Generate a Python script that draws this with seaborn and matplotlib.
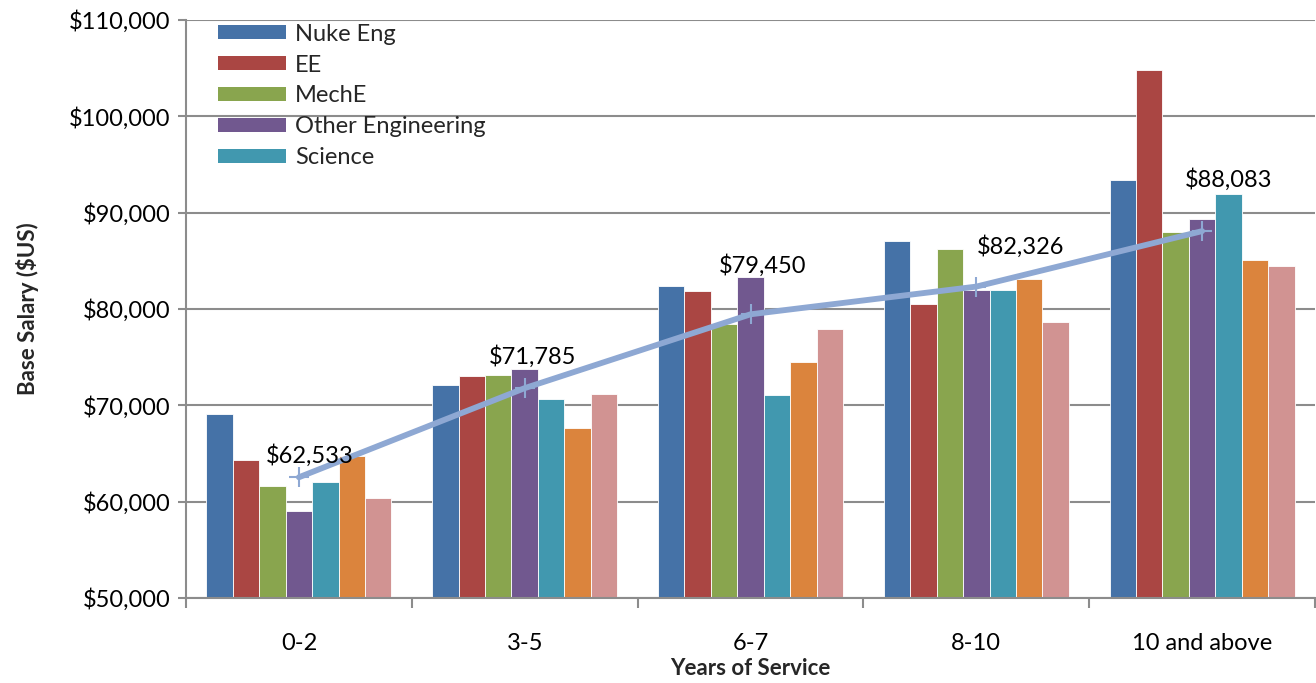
import numpy as np
import pandas as pd
import matplotlib
matplotlib.use("Agg")
import matplotlib.pyplot as plt
from matplotlib.ticker import FuncFormatter, FixedLocator
from matplotlib.patches import Patch
import seaborn as sns

# ---- data ----
years = ["0-2", "3-5", "6-7", "8-10", "10 and above"]
fields = ["Nuke Eng", "EE", "MechE", "Other Engineering", "Science", "Series 6", "Series 7"]
nuke_eng = [69100, 72100, 82400, 87100, 93400]
ee = [64300, 73000, 81900, 80500, 104800]
meche = [61600, 73100, 78400, 86200, 88000]
other_eng = [59000, 73800, 83300, 82000, 89300]
science = [62000, 70700, 71100, 82000, 91900]
series_6 = [64700, 67600, 74500, 83100, 85100]
series_7 = [60400, 71200, 77900, 78600, 84500]
average = [62533, 71785, 79450, 82326, 88083]

colors = ["#4572A7", "#AA4643", "#89A54E", "#71588F", "#4198AF", "#DB843D", "#D19392"]
line_color = "#8EA8D3"
grid_color = "#8C8C8C"

series = [nuke_eng, ee, meche, other_eng, science, series_6, series_7]
df = pd.DataFrame(
    [(y, f, vals[i]) for f, vals in zip(fields, series) for i, y in enumerate(years)],
    columns=["years", "field", "salary"],
)

sns.set_theme(style="white")
plt.rcParams["font.family"] = ["Lato", "DejaVu Sans"]

FS = 17

fig = plt.figure(figsize=(13.16, 6.83), dpi=100)
ax = fig.add_axes([186 / 1316, 1 - 598 / 683, (1315 - 186) / 1316, (598 - 20) / 683])

sns.barplot(
    data=df, x="years", y="salary", hue="field", order=years, hue_order=fields,
    palette=colors, width=0.82, saturation=1, edgecolor="white", linewidth=0.6,
    errorbar=None, ax=ax, legend=False, zorder=2,
)

# average trend line with value labels (hand-placed label offsets, in points)
xs = np.arange(len(years))
sns.lineplot(x=xs, y=average, ax=ax, color=line_color, linewidth=4.2, zorder=4,
             marker="+", markersize=15, markeredgewidth=1.5, markeredgecolor=line_color)
label_offsets = [(8, 16), (6, 23), (9, 35), (32, 29), (19, 37)]
for x, v, off in zip(xs, average, label_offsets):
    ax.annotate(f"${v:,.0f}", (x, v), xytext=off, textcoords="offset points",
                ha="center", va="center", fontsize=FS, color="black", zorder=5)

ax.set_ylim(50000, 110000)
ax.set_xlim(-0.5, len(years) - 0.5)
ax.set_yticks(np.arange(50000, 110001, 10000))
ax.yaxis.set_major_formatter(FuncFormatter(lambda v, p: f"${v:,.0f}"))
ax.yaxis.grid(True, color=grid_color, linewidth=1.5, zorder=0)
ax.set_axisbelow(True)

for s in ["top", "right"]:
    ax.spines[s].set_visible(False)
for s in ["left", "bottom"]:
    ax.spines[s].set_color(grid_color)
    ax.spines[s].set_linewidth(1.5)

ax.tick_params(axis="y", which="major", left=True, length=6, width=1.5, color=grid_color,
               labelsize=FS, pad=5, labelcolor="black")
ax.tick_params(axis="x", which="major", bottom=False, labelsize=FS, pad=19, labelcolor="black")
ax.xaxis.set_minor_locator(FixedLocator(np.arange(-0.5, len(years), 1.0)))
ax.tick_params(axis="x", which="minor", bottom=True, length=7, width=1.5, color=grid_color)

ax.set_xlabel("Years of Service", fontsize=16, fontweight="bold", labelpad=3)
ax.set_ylabel("Base Salary ($US)", fontsize=16, fontweight="bold", labelpad=22)

handles = [Patch(facecolor=c, edgecolor="none") for c in colors[:5]]
ax.legend(handles, fields[:5], loc="upper left", bbox_to_anchor=(0.02, 1.01),
          frameon=False, fontsize=FS, handlelength=2.9, handleheight=0.55,
          handletextpad=0.35, labelspacing=0.42, borderaxespad=0.0)

fig.savefig("out.png", dpi=100, facecolor="white")
